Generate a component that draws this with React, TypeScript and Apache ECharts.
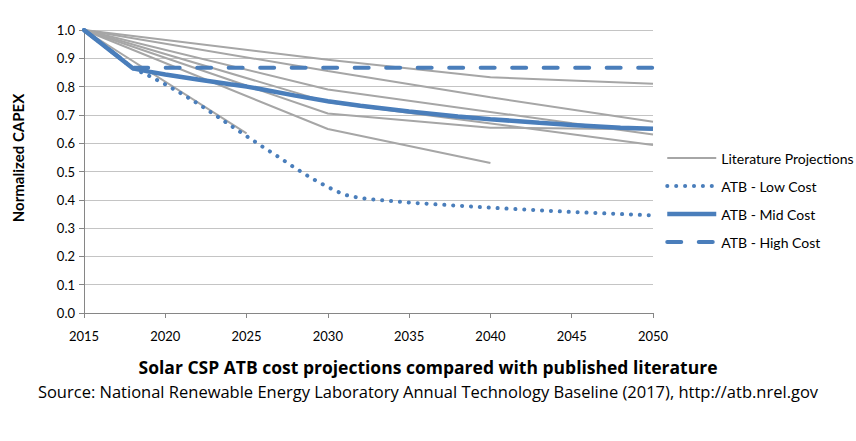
import React, { useEffect, useRef } from 'react';
import * as echarts from 'echarts';

// Literature projections, [year, normalized CAPEX]
const lit1 = [[2015, 1.0], [2030, 0.895], [2040, 0.833], [2050, 0.81]];
const lit2 = [[2015, 1.0], [2030, 0.855], [2040, 0.762], [2050, 0.676]];
const lit3 = [[2015, 1.0], [2030, 0.79], [2050, 0.631]];
const lit4 = [[2015, 1.0], [2030, 0.705], [2040, 0.655], [2050, 0.648]];
const lit5 = [[2015, 1.0], [2030, 0.65], [2040, 0.53]];
const lit6 = [[2015, 1.0], [2025, 0.635]];
const lit7 = [[2015, 1.0], [2030, 0.745], [2050, 0.594]];
const literature = [lit1, lit2, lit3, lit4, lit5, lit6, lit7];

// ATB scenarios
const atbLow = [
  [2015, 1.0], [2018, 0.865], [2019, 0.838], [2020, 0.808], [2021, 0.775], [2022, 0.74],
  [2023, 0.702], [2024, 0.663], [2025, 0.625], [2026, 0.587], [2027, 0.55], [2028, 0.512],
  [2029, 0.476], [2030, 0.445], [2031, 0.418], [2032, 0.406], [2033, 0.4], [2035, 0.39],
  [2040, 0.372], [2045, 0.357], [2050, 0.345],
];
const atbMid = [
  [2015, 1.0], [2018, 0.865], [2019, 0.853], [2020, 0.843], [2022, 0.825], [2024, 0.808],
  [2025, 0.8], [2026, 0.79], [2028, 0.768], [2030, 0.748], [2032, 0.732], [2035, 0.712],
  [2038, 0.694], [2040, 0.685], [2043, 0.672], [2045, 0.664], [2048, 0.655], [2050, 0.651],
];
const atbHigh = [[2015, 1.0], [2018, 0.867], [2050, 0.867]];

const legendNames = ['Literature Projections', 'ATB - Low Cost', 'ATB - Mid Cost', 'ATB - High Cost'];

const xMin = 2015;
const xMax = 2050;
const xStep = 5;
const yMin = 0;
const yMax = 1;
const yStep = 0.1;

const titleText = 'Solar CSP ATB cost projections compared with published literature';
const sourceText = 'Source: National Renewable Energy Laboratory Annual Technology Baseline (2017), http://atb.nrel.gov';
const yName = 'Normalized CAPEX';

const FONT = 'Lato, "Open Sans", sans-serif';
const WIDE = '"Open Sans", Lato, sans-serif';
const BLUE = '#4a7ebb';
const GRAY = '#a6a6a6';

const App: React.FC = () => {
  const chartRef = useRef<HTMLDivElement>(null);

  useEffect(() => {
    if (!chartRef.current) return;
    const chart = echarts.init(chartRef.current, undefined, { renderer: 'svg' });

    const litSeries = literature.map((d) => ({
      name: legendNames[0],
      type: 'line',
      data: d,
      symbol: 'none',
      lineStyle: { color: GRAY, width: 2 },
      itemStyle: { color: GRAY },
      z: 1,
    }));

    const options: any = {
      animation: false,
      textStyle: { fontFamily: FONT },
      grid: { left: 84, right: 203, top: 30, bottom: 128 },
      legend: {
        data: [
          { name: legendNames[0], lineStyle: { width: 2 } },
          { name: legendNames[1], lineStyle: { width: 4 } },
          { name: legendNames[2], lineStyle: { width: 4.5 } },
          { name: legendNames[3], lineStyle: { width: 4 } },
        ],
        orient: 'vertical',
        left: 660,
        top: 146,
        itemWidth: 49,
        itemHeight: 14,
        itemGap: 14,
        itemStyle: { opacity: 0 },
        textStyle: { fontFamily: FONT, fontSize: 14, color: '#000' },
      },
      xAxis: {
        type: 'value',
        min: xMin,
        max: xMax,
        interval: xStep,
        axisLine: { lineStyle: { color: '#868686' } },
        axisTick: { show: true, length: 5, lineStyle: { color: '#868686' } },
        splitLine: { show: false },
        axisLabel: {
          color: '#000',
          fontSize: 13,
          margin: 16,
          formatter: (v: number) => String(v),
        },
      },
      yAxis: {
        type: 'value',
        min: yMin,
        max: yMax,
        interval: yStep,
        axisLine: { show: true, lineStyle: { color: '#868686' } },
        axisTick: { show: true, length: 5, lineStyle: { color: '#868686' } },
        splitLine: { lineStyle: { color: '#c4c4c4', width: 1 } },
        axisLabel: {
          color: '#000',
          fontSize: 13,
          margin: 9,
          formatter: (v: number) => v.toFixed(1),
        },
      },
      graphic: [
        {
          type: 'text',
          x: 18,
          y: 158,
          rotation: Math.PI / 2,
          style: {
            text: yName,
            font: `bold 15px ${FONT}`,
            fill: '#000',
            align: 'center',
            verticalAlign: 'middle',
          },
        },
        {
          type: 'text',
          left: 'center',
          top: 358,
          style: { text: titleText, font: `bold 17.5px ${WIDE}`, fill: '#000' },
        },
        {
          type: 'text',
          left: 'center',
          top: 383,
          style: { text: sourceText, font: `16.5px ${WIDE}`, fill: '#000' },
        },
      ],
      series: [
        ...litSeries,
        {
          name: legendNames[1],
          type: 'line',
          data: atbLow,
          symbol: 'none',
          lineStyle: { color: BLUE, width: 4, type: [0.1, 8.8], cap: 'round' },
          itemStyle: { color: BLUE },
          z: 3,
        },
        {
          name: legendNames[2],
          type: 'line',
          data: atbMid,
          symbol: 'none',
          lineStyle: { color: BLUE, width: 4.5 },
          itemStyle: { color: BLUE },
          z: 3,
        },
        {
          name: legendNames[3],
          type: 'line',
          data: atbHigh,
          symbol: 'none',
          lineStyle: { color: BLUE, width: 4, type: [14, 17.5], cap: 'round' },
          itemStyle: { color: BLUE },
          z: 3,
        },
      ],
    };

    chart.setOption(options);

    return () => {
      chart.dispose();
    };
  }, []);

  return (
    <div
      ref={chartRef}
      style={{ position: 'absolute', left: 0, top: 0, width: 856, height: 441, background: '#fff' }}
    />
  );
};

export default App;
